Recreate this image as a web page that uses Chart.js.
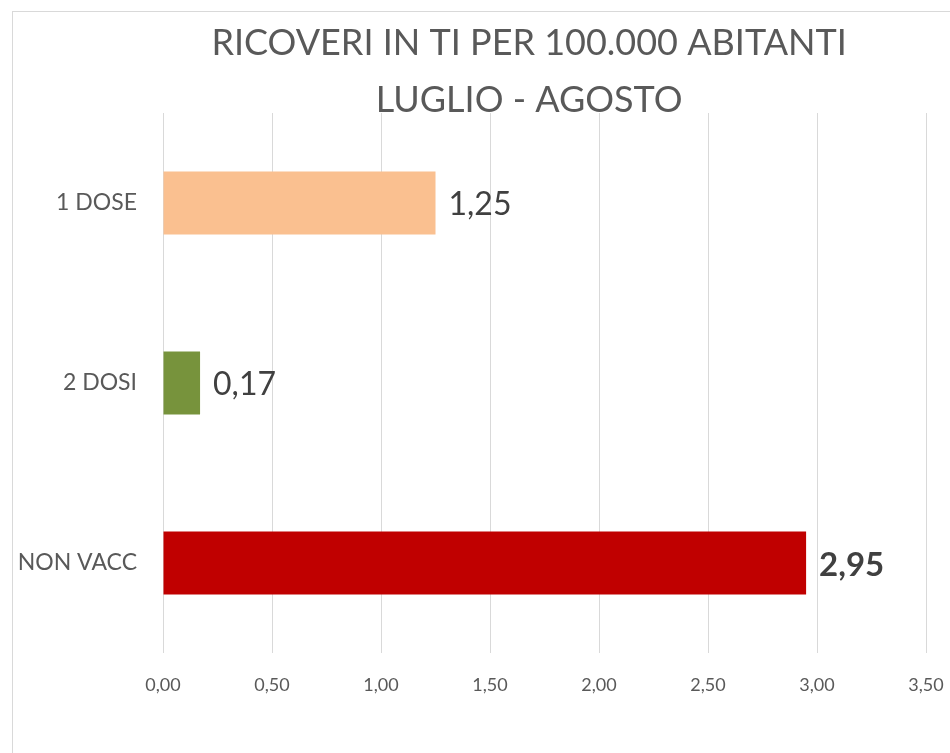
<!DOCTYPE html>
<html>
<head>
<meta charset="utf-8">
<script src="https://cdn.jsdelivr.net/npm/chart.js@4/dist/chart.umd.min.js"></script>
<style>
  html, body { margin: 0; padding: 0; background: #ffffff; }
  #wrap { position: relative; width: 950px; height: 753px; overflow: hidden; }
  #frame { position: absolute; left: 12px; top: 11px; width: 1000px; height: 1000px; border: 1.5px solid #d9d9d9; box-sizing: border-box; }
  canvas { position: absolute; left: 0; top: 0; }
</style>
</head>
<body>
<div id="wrap">
  <div id="frame"></div>
  <canvas id="c" width="950" height="753"></canvas>
</div>
<script>
const titleLines = ["RICOVERI IN TI PER 100.000 ABITANTI", "LUGLIO - AGOSTO"];
const categories = ["1 DOSE", "2 DOSI", "NON VACC"];
const values = [1.25, 0.17, 2.95];
const barColors = ["#FAC090", "#77933C", "#C00000"];
const labelBold = [false, false, true];
const xTicks = [0, 0.5, 1, 1.5, 2, 2.5, 3, 3.5];

const fmt = v => v.toFixed(2).replace('.', ',');
const FONT = "Lato, 'Open Sans', sans-serif";

const titlePlugin = {
  id: 'titleLines',
  afterDraw(chart) {
    const ctx = chart.ctx;
    ctx.save();
    ctx.fillStyle = '#595959';
    ctx.font = "36px " + FONT;
    ctx.textAlign = 'center';
    ctx.textBaseline = 'alphabetic';
    const cx = chart.width * 0.557;
    ctx.fillText(titleLines[0], cx, 55);
    ctx.fillText(titleLines[1], cx, 112);
    ctx.restore();
  }
};

const valueLabels = {
  id: 'valueLabels',
  afterDatasetsDraw(chart) {
    const ctx = chart.ctx;
    const meta = chart.getDatasetMeta(0);
    ctx.save();
    ctx.fillStyle = '#404040';
    ctx.textAlign = 'left';
    ctx.textBaseline = 'middle';
    meta.data.forEach((bar, i) => {
      ctx.font = (labelBold[i] ? "bold 33px " : "32px ") + FONT;
      ctx.fillText(fmt(values[i]), bar.x + 13, bar.y + 2);
    });
    ctx.restore();
  }
};

new Chart(document.getElementById('c'), {
  type: 'bar',
  data: {
    labels: categories,
    datasets: [{
      data: values,
      backgroundColor: barColors,
      borderWidth: 0,
      categoryPercentage: 1.0,
      barPercentage: 0.35
    }]
  },
  options: {
    indexAxis: 'y',
    responsive: false,
    animation: false,
    devicePixelRatio: 1,
    layout: { padding: { left: 0, top: 113, right: 24, bottom: 40 } },
    plugins: { legend: { display: false }, tooltip: { enabled: false } },
    scales: {
      x: {
        min: 0, max: 3.5,
        afterBuildTicks(scale) { scale.ticks = xTicks.map(v => ({ value: v })); },
        afterFit(scale) { scale.height = 60; scale.paddingLeft = 0; scale.paddingRight = 0; },
        grid: { color: '#d9d9d9', lineWidth: 1, drawTicks: false },
        border: { display: false },
        ticks: {
          padding: 21,
          color: '#595959',
          font: { family: FONT, size: 18 },
          callback: v => fmt(v)
        }
      },
      y: {
        afterFit(scale) { scale.width = 163; scale.paddingTop = 0; scale.paddingBottom = 0; },
        grid: { display: false, drawTicks: false },
        border: { display: false },
        ticks: {
          padding: 26,
          color: '#595959',
          font: { family: FONT, size: 23 }
        }
      }
    }
  },
  plugins: [titlePlugin, valueLabels]
});
</script>
</body>
</html>
